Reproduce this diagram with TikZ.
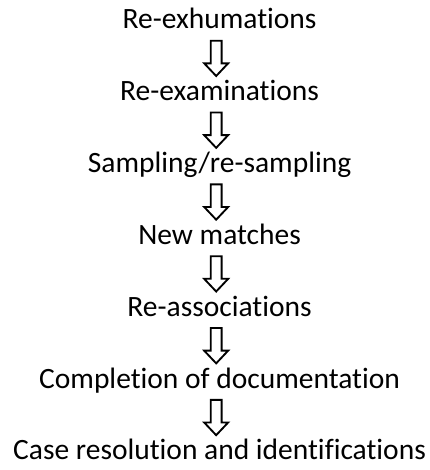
\documentclass[tikz,border=0pt]{standalone}
\usepackage{fontspec}
\setmainfont{Carlito}[Ligatures=NoCommon]
\usetikzlibrary{calc}
\tikzset{stage/.style={anchor=base, inner sep=0pt, font=\fontsize{22.2}{26}\selectfont},
  hollow/.style={line width=1.4pt, fill=white, line join=miter}}
% hollow block arrow from one stage down to the next
\newcommand{\flowstep}[2]{%
  \draw[hollow] let \p1=(#1.base), \p2=(#2.base) in
    (\x1-0.235cm,\y1-0.31cm) -- (\x1+0.055cm,\y1-0.31cm) -- (\x1+0.055cm,\y2+0.992cm)
    -- (\x1+0.227cm,\y2+0.992cm) -- (\x1-0.09cm,\y2+0.656cm) -- (\x1-0.407cm,\y2+0.992cm)
    -- (\x1-0.235cm,\y2+0.992cm) -- cycle;}
\begin{document}
\begin{tikzpicture}
\useasboundingbox (-5.808,0.767) rectangle (5.543,-11.665);
\node[stage] (a) at (0,0) {Re-exhumations};
\node[stage] (b) at (0,-1.9) {Re-examinations};
\node[stage] (c) at (0,-3.8) {Sampling/re-sampling};
\node[stage] (d) at (0,-5.7) {New matches};
\node[stage] (e) at (0,-7.6) {Re-associations};
\node[stage] (f) at (0,-9.5) {Completion of documentation};
\node[stage] (g) at (0,-11.4) {Case resolution and identifications};
\flowstep{a}{b}
\flowstep{b}{c}
\flowstep{c}{d}
\flowstep{d}{e}
\flowstep{e}{f}
\flowstep{f}{g}
\end{tikzpicture}
\end{document}
